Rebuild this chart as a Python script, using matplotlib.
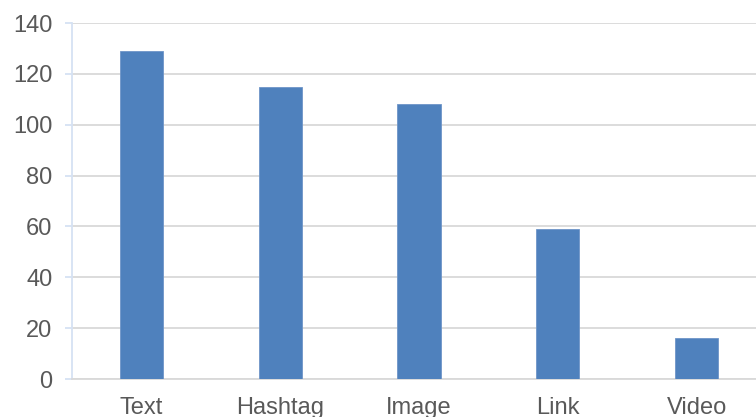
import matplotlib.pyplot as plt
import numpy as np

categories = ['Text', 'Hashtag', 'Image', 'Link', 'Video']
counts = [129, 115, 108, 59, 16]
yticks = [0, 20, 40, 60, 80, 100, 120, 140]

plt.rcParams['font.family'] = ['Liberation Sans', 'DejaVu Sans']

fig = plt.figure(figsize=(7.56, 4.17), dpi=100)
# the right side of the plot area runs past the image edge in the reference
ax = fig.add_axes([72 / 756, 1 - 379 / 417, 694 / 756, 356 / 417])

x = np.arange(len(categories))
ax.bar(x, counts, width=0.31, color='#4F81BD', edgecolor='#6E95C8', linewidth=0.6, zorder=3)

ax.set_xlim(-0.5, len(categories) - 0.5)
ax.set_ylim(0, 140)
ax.set_yticks(yticks)
ax.set_xticks(x)
ax.set_xticklabels(categories)

ax.grid(axis='y', color='#D9D9D9', linewidth=1.3, zorder=0)
for s in ['top', 'right']:
    ax.spines[s].set_visible(False)
ax.spines['bottom'].set_color('#D9D9D9')
ax.spines['bottom'].set_linewidth(1.3)
ax.spines['left'].set_color('#D6E2F3')
ax.spines['left'].set_linewidth(1.3)

ax.tick_params(axis='y', colors='#D6E2F3', labelcolor='#595959', labelsize=17,
               length=5, width=1.3, pad=9)
ax.tick_params(axis='x', length=0, labelcolor='#595959', labelsize=17, pad=13)

fig.savefig('out.png', dpi=100)
